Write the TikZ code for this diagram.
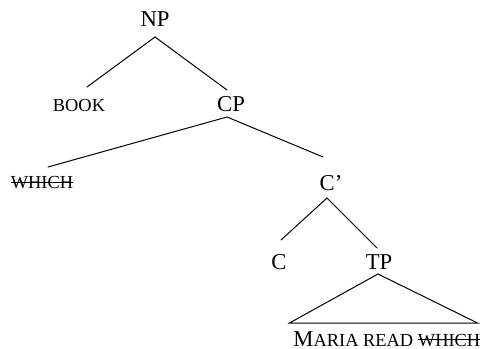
\documentclass[tikz,border=0pt]{standalone}
\usepackage{fontspec}
\setmainfont{Liberation Serif}
\usetikzlibrary{calc}
\newcommand\fsc[1]{{\fontsize{13.8}{16}\selectfont #1}}
\newcommand\strk[1]{\setbox0=\hbox{#1}\rlap{\rule[0.33em]{\wd0}{0.75pt}}\box0}
\tikzset{
  lab/.style={inner sep=0pt, font=\fontsize{17}{20}\selectfont},
  branch/.style={line width=0.75pt, line cap=round}
}
\begin{document}
\begin{tikzpicture}[x=0.75pt,y=-0.75pt]
\useasboundingbox (0,0) rectangle (482,349);
\node[lab] (NP) at (155,19.5) {NP};
\node[lab] (BOOK) at (79,106) {\fsc{BOOK}};
\node[lab] (CP) at (231,104) {CP};
\node[lab] (WH) at (42,183) {\fsc{\strk{WHICH}}};
\node[lab] (Cb) at (331,183) {C'};
\node[lab] (C) at (279,262) {C};
\node[lab] (TP) at (379,262) {TP};
\node[lab, anchor=east] (S) at (480.5,339) {M\fsc{ARIA READ \strk{WHICH}}};
\draw[branch] ($(NP)+(0,17.5)$) -- ($(BOOK)+(8,-19)$);
\draw[branch] ($(NP)+(0,17.5)$) -- ($(CP)+(-4,-14)$);
\draw[branch] ($(CP)+(-4,13)$) -- ($(WH)+(6,-16)$);
\draw[branch] ($(CP)+(-4,13)$) -- ($(Cb)+(-8,-26)$);
\draw[branch] ($(Cb)+(-4,15)$) -- ($(C)+(2,-22)$);
\draw[branch] ($(Cb)+(-4,15)$) -- ($(TP)+(-2,-14)$);
\draw[branch] ($(TP)+(-1,12)$) -- ($(S.east)+(-191,-16)$) -- ($(S.east)+(-3,-16)$) -- cycle;
\end{tikzpicture}
\end{document}
